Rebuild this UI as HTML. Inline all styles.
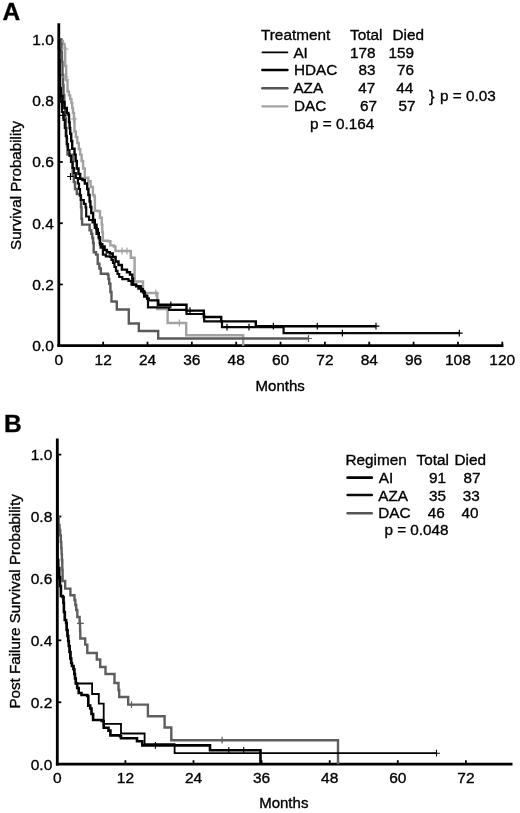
<!DOCTYPE html>
<html><head><meta charset="utf-8"><style>
html,body{margin:0;padding:0;background:#fff;}
svg{display:block;filter:grayscale(1);}
</style></head><body>
<svg width="520" height="813" viewBox="0 0 520 813">
<rect width="520" height="813" fill="#fff"/>
<text x="2.6" y="20.2" font-size="24.5" font-weight="bold" font-family="'Liberation Sans', sans-serif" stroke="#000" stroke-width="0.35">A</text>
<text x="4" y="432.3" font-size="24.5" font-weight="bold" font-family="'Liberation Sans', sans-serif" stroke="#000" stroke-width="0.35">B</text>
<path d="M58.80 23.2 L58.80 347.10" stroke="#000" stroke-width="2.8" fill="none"/>
<path d="M57.40 345.70 L503.4 345.70" stroke="#000" stroke-width="2.8" fill="none"/>
<text x="53.80" y="351.00" text-anchor="end" font-size="15.5" font-family="'Liberation Sans', sans-serif" stroke="#000" stroke-width="0.35">0.0</text>
<path d="M58.80 284.46 L62.80 284.46" stroke="#000" stroke-width="1.8"/>
<text x="53.80" y="289.76" text-anchor="end" font-size="15.5" font-family="'Liberation Sans', sans-serif" stroke="#000" stroke-width="0.35">0.2</text>
<path d="M58.80 223.22 L62.80 223.22" stroke="#000" stroke-width="1.8"/>
<text x="53.80" y="228.52" text-anchor="end" font-size="15.5" font-family="'Liberation Sans', sans-serif" stroke="#000" stroke-width="0.35">0.4</text>
<path d="M58.80 161.98 L62.80 161.98" stroke="#000" stroke-width="1.8"/>
<text x="53.80" y="167.28" text-anchor="end" font-size="15.5" font-family="'Liberation Sans', sans-serif" stroke="#000" stroke-width="0.35">0.6</text>
<path d="M58.80 100.74 L62.80 100.74" stroke="#000" stroke-width="1.8"/>
<text x="53.80" y="106.04" text-anchor="end" font-size="15.5" font-family="'Liberation Sans', sans-serif" stroke="#000" stroke-width="0.35">0.8</text>
<path d="M58.80 39.50 L62.80 39.50" stroke="#000" stroke-width="1.8"/>
<text x="53.80" y="44.80" text-anchor="end" font-size="15.5" font-family="'Liberation Sans', sans-serif" stroke="#000" stroke-width="0.35">1.0</text>
<text x="58.80" y="365.00" text-anchor="middle" font-size="15.5" font-family="'Liberation Sans', sans-serif" stroke="#000" stroke-width="0.35">0</text>
<path d="M103.15 345.70 L103.15 341.70" stroke="#000" stroke-width="1.8"/>
<text x="103.15" y="365.00" text-anchor="middle" font-size="15.5" font-family="'Liberation Sans', sans-serif" stroke="#000" stroke-width="0.35">12</text>
<path d="M147.50 345.70 L147.50 341.70" stroke="#000" stroke-width="1.8"/>
<text x="147.50" y="365.00" text-anchor="middle" font-size="15.5" font-family="'Liberation Sans', sans-serif" stroke="#000" stroke-width="0.35">24</text>
<path d="M191.85 345.70 L191.85 341.70" stroke="#000" stroke-width="1.8"/>
<text x="191.85" y="365.00" text-anchor="middle" font-size="15.5" font-family="'Liberation Sans', sans-serif" stroke="#000" stroke-width="0.35">36</text>
<path d="M236.20 345.70 L236.20 341.70" stroke="#000" stroke-width="1.8"/>
<text x="236.20" y="365.00" text-anchor="middle" font-size="15.5" font-family="'Liberation Sans', sans-serif" stroke="#000" stroke-width="0.35">48</text>
<path d="M280.55 345.70 L280.55 341.70" stroke="#000" stroke-width="1.8"/>
<text x="280.55" y="365.00" text-anchor="middle" font-size="15.5" font-family="'Liberation Sans', sans-serif" stroke="#000" stroke-width="0.35">60</text>
<path d="M324.90 345.70 L324.90 341.70" stroke="#000" stroke-width="1.8"/>
<text x="324.90" y="365.00" text-anchor="middle" font-size="15.5" font-family="'Liberation Sans', sans-serif" stroke="#000" stroke-width="0.35">72</text>
<path d="M369.25 345.70 L369.25 341.70" stroke="#000" stroke-width="1.8"/>
<text x="369.25" y="365.00" text-anchor="middle" font-size="15.5" font-family="'Liberation Sans', sans-serif" stroke="#000" stroke-width="0.35">84</text>
<path d="M413.60 345.70 L413.60 341.70" stroke="#000" stroke-width="1.8"/>
<text x="413.60" y="365.00" text-anchor="middle" font-size="15.5" font-family="'Liberation Sans', sans-serif" stroke="#000" stroke-width="0.35">96</text>
<path d="M457.95 345.70 L457.95 341.70" stroke="#000" stroke-width="1.8"/>
<text x="457.95" y="365.00" text-anchor="middle" font-size="15.5" font-family="'Liberation Sans', sans-serif" stroke="#000" stroke-width="0.35">108</text>
<path d="M502.30 345.70 L502.30 341.70" stroke="#000" stroke-width="1.8"/>
<text x="502.30" y="365.00" text-anchor="middle" font-size="15.5" font-family="'Liberation Sans', sans-serif" stroke="#000" stroke-width="0.35">120</text>
<text x="280.2" y="390.5" text-anchor="middle" font-size="15" font-family="'Liberation Sans', sans-serif" stroke="#000" stroke-width="0.35">Months</text>
<text transform="translate(20.6,185.4) rotate(-90)" text-anchor="middle" font-size="15.2" font-family="'Liberation Sans', sans-serif" stroke="#000" stroke-width="0.35">Survival Probability</text>
<path d="M57.30 438.5 L57.30 765.60" stroke="#000" stroke-width="2.8" fill="none"/>
<path d="M55.90 764.20 L512.5 764.20" stroke="#000" stroke-width="2.8" fill="none"/>
<text x="52.30" y="769.50" text-anchor="end" font-size="15.5" font-family="'Liberation Sans', sans-serif" stroke="#000" stroke-width="0.35">0.0</text>
<path d="M57.30 702.28 L61.30 702.28" stroke="#000" stroke-width="1.8"/>
<text x="52.30" y="707.58" text-anchor="end" font-size="15.5" font-family="'Liberation Sans', sans-serif" stroke="#000" stroke-width="0.35">0.2</text>
<path d="M57.30 640.36 L61.30 640.36" stroke="#000" stroke-width="1.8"/>
<text x="52.30" y="645.66" text-anchor="end" font-size="15.5" font-family="'Liberation Sans', sans-serif" stroke="#000" stroke-width="0.35">0.4</text>
<path d="M57.30 578.44 L61.30 578.44" stroke="#000" stroke-width="1.8"/>
<text x="52.30" y="583.74" text-anchor="end" font-size="15.5" font-family="'Liberation Sans', sans-serif" stroke="#000" stroke-width="0.35">0.6</text>
<path d="M57.30 516.52 L61.30 516.52" stroke="#000" stroke-width="1.8"/>
<text x="52.30" y="521.82" text-anchor="end" font-size="15.5" font-family="'Liberation Sans', sans-serif" stroke="#000" stroke-width="0.35">0.8</text>
<path d="M57.30 454.60 L61.30 454.60" stroke="#000" stroke-width="1.8"/>
<text x="52.30" y="459.90" text-anchor="end" font-size="15.5" font-family="'Liberation Sans', sans-serif" stroke="#000" stroke-width="0.35">1.0</text>
<text x="57.30" y="783.00" text-anchor="middle" font-size="15.5" font-family="'Liberation Sans', sans-serif" stroke="#000" stroke-width="0.35">0</text>
<path d="M125.40 764.20 L125.40 760.20" stroke="#000" stroke-width="1.8"/>
<text x="125.40" y="783.00" text-anchor="middle" font-size="15.5" font-family="'Liberation Sans', sans-serif" stroke="#000" stroke-width="0.35">12</text>
<path d="M193.50 764.20 L193.50 760.20" stroke="#000" stroke-width="1.8"/>
<text x="193.50" y="783.00" text-anchor="middle" font-size="15.5" font-family="'Liberation Sans', sans-serif" stroke="#000" stroke-width="0.35">24</text>
<path d="M261.60 764.20 L261.60 760.20" stroke="#000" stroke-width="1.8"/>
<text x="261.60" y="783.00" text-anchor="middle" font-size="15.5" font-family="'Liberation Sans', sans-serif" stroke="#000" stroke-width="0.35">36</text>
<path d="M329.70 764.20 L329.70 760.20" stroke="#000" stroke-width="1.8"/>
<text x="329.70" y="783.00" text-anchor="middle" font-size="15.5" font-family="'Liberation Sans', sans-serif" stroke="#000" stroke-width="0.35">48</text>
<path d="M397.80 764.20 L397.80 760.20" stroke="#000" stroke-width="1.8"/>
<text x="397.80" y="783.00" text-anchor="middle" font-size="15.5" font-family="'Liberation Sans', sans-serif" stroke="#000" stroke-width="0.35">60</text>
<path d="M465.90 764.20 L465.90 760.20" stroke="#000" stroke-width="1.8"/>
<text x="465.90" y="783.00" text-anchor="middle" font-size="15.5" font-family="'Liberation Sans', sans-serif" stroke="#000" stroke-width="0.35">72</text>
<text x="283.8" y="808.2" text-anchor="middle" font-size="15" font-family="'Liberation Sans', sans-serif" stroke="#000" stroke-width="0.35">Months</text>
<text transform="translate(19.9,601.4) rotate(-90)" text-anchor="middle" font-size="15.2" font-family="'Liberation Sans', sans-serif" stroke="#000" stroke-width="0.35">Post Failure Survival Probability</text>
<path d="M58.8 39.5H61.5V41.0H63.0V44.0H64.6V48.0H65.2V66.0H66.2V80.0H67.5V91.5H69.0V95.4H70.2V99.0H71.4V103.0H72.2V108.0H73.0V113.0H74.0V118.5H74.5V131.5H75.8V137.0H77.3V143.0H78.8V149.0H80.2V154.6H81.6V161.0H83.1V168.5H84.8V177.7H88.3V181.2H90.6V187.0H92.9V195.0H94.4V196.5H94.9V210.8H98.3V211.3H100.0V217.7H101.7V224.6H102.3V232.0H102.9V240.8H108.1V241.3H110.4V245.4H113.8V246.5H115.5V251.0H130.3V251.0H130.8V257.7H134.2V257.7H134.6V281.5H142.5V281.5H143.0V293.0H156.8V293.0H157.3V309.0H167.3V309.0H167.6V323.0H186.0V323.0H186.2V335.3H243.2V335.3H243.2V345.7" stroke="#a2a2a2" stroke-width="2.4" fill="none"/>
<path d="M58.8 39.5H60.6V44.0H61.5V52.0H62.0V62.0H62.5V75.0H63.0V85.0H63.5V95.0H64.3V108.0H65.2V118.5H65.8V128.0H66.4V137.3H67.0V146.0H67.5V154.6H72.2V157.0H72.7V175.4H73.8V182.0H75.0V189.0H76.8V194.0H79.8V195.8H81.0V207.3H81.5V218.8H82.1V224.6H89.0V224.6H89.6V230.4H91.3V233.8H92.3V238.0H93.1V243.0H93.7V252.3H96.0V254.6H97.7V263.8H99.4V268.5H100.8V273.8H107.7V274.6H108.5V279.0H109.2V283.8H110.4V292.0H111.5V301.5H116.5V302.0H116.8V309.5H128.5V309.5H128.8V323.5H138.5V323.5H138.8V331.0H158.0V331.0H158.2V338.5H309.0V338.5" stroke="#5a5a5a" stroke-width="2.4" fill="none"/>
<path d="M58.8 39.5H59.0V50.0H59.2V65.0H59.4V80.0H59.8V92.0H60.6V102.0H62.0V112.0H63.5V120.0H64.8V128.0H65.8V136.0H66.8V144.0H68.0V150.0H69.5V156.0H71.0V162.0H72.5V168.0H74.0V173.0H75.8V178.0H77.9V183.5H79.0V189.0H80.0V195.0H80.8V200.0H83.8V203.8H85.6V207.3H86.2V216.5H89.0V220.0H92.5V222.3H94.8V228.0H96.5V233.8H98.8V238.5H99.8V243.0H100.6V247.7H102.9V254.6H105.8V256.3H110.0V257.0H111.5V260.0H113.0V263.0H114.5V267.0H116.0V270.8H117.5V274.0H119.2V277.0H122.3V279.2H128.5V280.8H131.5V284.6H136.0V286.0H140.8V289.2H143.0V292.3H145.0V295.5H147.0V298.5H148.0V307.3H168.8V307.3H169.0V309.8H186.0V309.8H186.5V314.0H203.8V314.0H204.2V321.4H221.7V321.4H222.0V327.1H283.0V327.1H283.6V333.1H459.5V333.1" stroke="#0a0a0a" stroke-width="2.2" fill="none"/>
<path d="M58.8 39.5H59.0V48.0H59.3V60.0H59.6V75.0H60.0V88.0H61.0V96.0H62.5V102.0H64.5V108.0H66.8V113.0H68.3V114.6H69.0V122.0H69.6V128.0H70.2V133.8H71.2V141.0H72.2V148.8H74.5V154.6H75.6V161.0H76.8V168.5H78.5V174.0H80.2V178.8H82.5V180.0H84.8V183.5H87.2V189.0H88.4V195.0H89.6V201.5H90.4V207.0H91.3V213.0H93.1V220.0H94.8V224.6H96.5V229.2H97.8V233.0H98.8V237.3H100.0V244.2H102.3V246.5H104.6V250.0H106.9V252.3H109.8V253.5H112.7V257.0H115.6V261.5H118.5V265.0H121.9V269.6H127.0V272.3H130.0V274.6H132.3V278.5H133.0V284.6H136.2V286.3H138.5V288.5H141.2V291.2H144.2V296.5H147.3V298.8H148.8V300.4H158.0V300.4H158.3V304.8H186.0V304.8H186.5V310.6H203.5V310.6H203.8V317.0H220.9V317.0H221.2V321.4H255.6V321.4H255.8V326.2H376.0V326.2" stroke="#000" stroke-width="2.4" fill="none"/>
<path d="M372.6 326.2H379.4M376.0 322.8V329.6" stroke="#000" stroke-width="1.2" fill="none"/>
<path d="M270.0 326.2H276.8M273.4 322.8V329.6" stroke="#000" stroke-width="1.2" fill="none"/>
<path d="M313.9 326.2H320.7M317.3 322.8V329.6" stroke="#000" stroke-width="1.2" fill="none"/>
<path d="M339.0 333.1H345.8M342.4 329.7V336.5" stroke="#000" stroke-width="1.2" fill="none"/>
<path d="M455.9 333.1H462.7M459.3 329.7V336.5" stroke="#000" stroke-width="1.2" fill="none"/>
<path d="M223.6 327.1H230.4M227.0 323.7V330.5" stroke="#000" stroke-width="1.2" fill="none"/>
<path d="M245.6 327.1H252.4M249.0 323.7V330.5" stroke="#000" stroke-width="1.2" fill="none"/>
<path d="M167.4 304.8H174.2M170.8 301.4V308.2" stroke="#000" stroke-width="1.2" fill="none"/>
<path d="M186.6 310.6H193.4M190.0 307.2V314.0" stroke="#000" stroke-width="1.2" fill="none"/>
<path d="M67.1 176.5H73.9M70.5 173.1V179.9" stroke="#000" stroke-width="1.2" fill="none"/>
<path d="M59.6 115.4H66.4M63.0 112.0V118.8" stroke="#000" stroke-width="1.2" fill="none"/>
<path d="M305.1 338.5H311.9M308.5 335.1V341.9" stroke="#5a5a5a" stroke-width="1.2" fill="none"/>
<path d="M176.0 323.0H182.8M179.4 319.6V326.4" stroke="#a2a2a2" stroke-width="1.2" fill="none"/>
<path d="M152.4 293.0H159.2M155.8 289.6V296.4" stroke="#a2a2a2" stroke-width="1.2" fill="none"/>
<path d="M118.6 251.0H125.4M122.0 247.6V254.4" stroke="#a2a2a2" stroke-width="1.2" fill="none"/>
<path d="M123.6 251.0H130.4M127.0 247.6V254.4" stroke="#a2a2a2" stroke-width="1.2" fill="none"/>
<path d="M61.6 49.0H68.4M65.0 45.6V52.4" stroke="#a2a2a2" stroke-width="1.2" fill="none"/>
<path d="M61.6 77.0H68.4M65.0 73.6V80.4" stroke="#a2a2a2" stroke-width="1.2" fill="none"/>
<path d="M70.1 119.0H76.9M73.5 115.6V122.4" stroke="#a2a2a2" stroke-width="1.2" fill="none"/>
<path d="M57.3 454.6H57.3V517.0H58.6V525.0H59.5V530.0H60.2V535.4H60.8V542.0H61.3V548.0H61.6V554.0H61.9V560.0H62.3V570.0H62.6V581.0H65.2V588.6H70.4V595.2H74.5V600.0H75.3V605.0H76.2V610.0H77.3V617.0H79.6V623.4H80.1V631.0H80.3V638.5H85.2V644.6H87.3V653.0H96.8V659.5H100.2V667.0H105.5V674.0H114.5V683.0H118.5V690.0H119.2V697.0H128.2V704.6H147.9V716.3H164.6V727.5H171.3V740.2H338.0V740.2H338.0V764.2" stroke="#5e5e5e" stroke-width="2.4" fill="none"/>
<path d="M57.3 454.6H57.3V560.0H58.2V568.0H59.2V577.0H60.0V586.0H60.9V596.0H62.6V597.0H63.5V603.0H63.9V612.0H64.8V620.0H66.1V623.0H66.7V630.0H67.5V636.0H68.2V641.0H68.8V646.0H69.6V652.0H70.4V658.5H71.2V663.0H72.0V666.0H73.5V669.2H74.3V674.0H75.0V678.5H75.8V683.5H92.1V694.0H98.8V703.7H103.7V723.8H121.0V733.5H144.6V744.2H174.6V753.2H436.5V753.2" stroke="#000" stroke-width="1.8" fill="none"/>
<path d="M57.3 454.6H57.3V560.0H58.2V568.0H59.2V577.0H60.0V586.0H60.9V596.0H62.6V597.0H63.5V603.0H63.9V612.0H64.8V620.0H66.1V623.0H66.7V630.0H67.5V636.0H68.2V641.0H68.8V646.0H69.6V652.0H70.4V658.5H71.2V663.0H72.0V666.0H73.5V669.2H74.3V674.0H75.0V678.5H75.8V683.5H77.2V688.0H78.7V693.0H81.5V695.0H87.3V696.0H88.3V705.6H90.2V708.5H91.5V714.0H93.1V720.0H101.7V721.0H103.7V727.7H108.5V730.6H110.4V735.4H120.0V736.3H121.0V738.3H137.0V741.2H142.3V745.4H210.0V745.4H210.0V750.3H260.5V750.3H260.5V764.2" stroke="#000" stroke-width="2.6" fill="none"/>
<path d="M77.0 623.4H83.8M80.4 620.0V626.8" stroke="#5e5e5e" stroke-width="1.2" fill="none"/>
<path d="M128.1 704.6H134.9M131.5 701.2V708.0" stroke="#5e5e5e" stroke-width="1.2" fill="none"/>
<path d="M218.7 740.2H225.5M222.1 736.8V743.6" stroke="#5e5e5e" stroke-width="1.2" fill="none"/>
<path d="M433.1 753.2H439.9M436.5 749.8V756.6" stroke="#000" stroke-width="1.1" fill="none"/>
<path d="M152.0 745.4H158.8M155.4 742.0V748.8" stroke="#000" stroke-width="1.1" fill="none"/>
<path d="M225.4 750.3H232.2M228.8 746.9V753.7" stroke="#000" stroke-width="1.1" fill="none"/>
<path d="M240.3 750.3H247.1M243.7 746.9V753.7" stroke="#000" stroke-width="1.1" fill="none"/>
<text x="261" y="40.2" text-anchor="start" font-size="15.3" font-family="'Liberation Sans', sans-serif" stroke="#000" stroke-width="0.35">Treatment</text>
<text x="350" y="40.2" text-anchor="start" font-size="15.3" font-family="'Liberation Sans', sans-serif" stroke="#000" stroke-width="0.35">Total</text>
<text x="392.5" y="40.2" text-anchor="start" font-size="15.3" font-family="'Liberation Sans', sans-serif" stroke="#000" stroke-width="0.35">Died</text>
<text x="293.4" y="57.6" text-anchor="start" font-size="15.3" font-family="'Liberation Sans', sans-serif" stroke="#000" stroke-width="0.35">AI</text>
<text x="375.6" y="57.6" text-anchor="end" font-size="15.3" font-family="'Liberation Sans', sans-serif" stroke="#000" stroke-width="0.35">178</text>
<text x="414" y="57.6" text-anchor="end" font-size="15.3" font-family="'Liberation Sans', sans-serif" stroke="#000" stroke-width="0.35">159</text>
<text x="294" y="75.2" text-anchor="start" font-size="15.3" font-family="'Liberation Sans', sans-serif" stroke="#000" stroke-width="0.35">HDAC</text>
<text x="375.6" y="75.2" text-anchor="end" font-size="15.3" font-family="'Liberation Sans', sans-serif" stroke="#000" stroke-width="0.35">83</text>
<text x="414" y="75.2" text-anchor="end" font-size="15.3" font-family="'Liberation Sans', sans-serif" stroke="#000" stroke-width="0.35">76</text>
<text x="293.4" y="93.4" text-anchor="start" font-size="15.3" font-family="'Liberation Sans', sans-serif" stroke="#000" stroke-width="0.35">AZA</text>
<text x="375.2" y="93.4" text-anchor="end" font-size="15.3" font-family="'Liberation Sans', sans-serif" stroke="#000" stroke-width="0.35">47</text>
<text x="413.3" y="93.4" text-anchor="end" font-size="15.3" font-family="'Liberation Sans', sans-serif" stroke="#000" stroke-width="0.35">44</text>
<text x="294" y="111.4" text-anchor="start" font-size="15.3" font-family="'Liberation Sans', sans-serif" stroke="#000" stroke-width="0.35">DAC</text>
<text x="377" y="111.4" text-anchor="end" font-size="15.3" font-family="'Liberation Sans', sans-serif" stroke="#000" stroke-width="0.35">67</text>
<text x="415.5" y="111.4" text-anchor="end" font-size="15.3" font-family="'Liberation Sans', sans-serif" stroke="#000" stroke-width="0.35">57</text>
<text x="310" y="129" text-anchor="start" font-size="15.3" font-family="'Liberation Sans', sans-serif" stroke="#000" stroke-width="0.35">p = 0.164</text>
<text x="440" y="101.2" text-anchor="start" font-size="15.3" font-family="'Liberation Sans', sans-serif" stroke="#000" stroke-width="0.35">p = 0.03</text>
<text x="429" y="102.4" font-size="16.6" font-family="'Liberation Sans', sans-serif" stroke="#000" stroke-width="0.35">}</text>
<path d="M262.4 52.4 H287.4" stroke="#000" stroke-width="1.7" stroke-linecap="round"/>
<path d="M262.4 70 H287.4" stroke="#000" stroke-width="2.6" stroke-linecap="round"/>
<path d="M262.4 88.2 H287.4" stroke="#555" stroke-width="2.5" stroke-linecap="round"/>
<path d="M262.4 106.3 H287.4" stroke="#a2a2a2" stroke-width="2.3" stroke-linecap="round"/>
<text x="345.5" y="464.6" text-anchor="start" font-size="15.3" font-family="'Liberation Sans', sans-serif" stroke="#000" stroke-width="0.35">Regimen</text>
<text x="416.6" y="464.6" text-anchor="start" font-size="15.3" font-family="'Liberation Sans', sans-serif" stroke="#000" stroke-width="0.35">Total</text>
<text x="454.5" y="464.6" text-anchor="start" font-size="15.3" font-family="'Liberation Sans', sans-serif" stroke="#000" stroke-width="0.35">Died</text>
<text x="378.8" y="482.7" text-anchor="start" font-size="15.3" font-family="'Liberation Sans', sans-serif" stroke="#000" stroke-width="0.35">AI</text>
<text x="446" y="482.7" text-anchor="end" font-size="15.3" font-family="'Liberation Sans', sans-serif" stroke="#000" stroke-width="0.35">91</text>
<text x="480.6" y="482.7" text-anchor="end" font-size="15.3" font-family="'Liberation Sans', sans-serif" stroke="#000" stroke-width="0.35">87</text>
<text x="378.3" y="500.6" text-anchor="start" font-size="15.3" font-family="'Liberation Sans', sans-serif" stroke="#000" stroke-width="0.35">AZA</text>
<text x="446" y="500.6" text-anchor="end" font-size="15.3" font-family="'Liberation Sans', sans-serif" stroke="#000" stroke-width="0.35">35</text>
<text x="479.8" y="500.6" text-anchor="end" font-size="15.3" font-family="'Liberation Sans', sans-serif" stroke="#000" stroke-width="0.35">33</text>
<text x="378.3" y="518.2" text-anchor="start" font-size="15.3" font-family="'Liberation Sans', sans-serif" stroke="#000" stroke-width="0.35">DAC</text>
<text x="444.8" y="518.2" text-anchor="end" font-size="15.3" font-family="'Liberation Sans', sans-serif" stroke="#000" stroke-width="0.35">46</text>
<text x="478.4" y="518.2" text-anchor="end" font-size="15.3" font-family="'Liberation Sans', sans-serif" stroke="#000" stroke-width="0.35">40</text>
<text x="384.4" y="535.3" text-anchor="start" font-size="15.3" font-family="'Liberation Sans', sans-serif" stroke="#000" stroke-width="0.35">p = 0.048</text>
<path d="M347.6 477.7 H371.8" stroke="#000" stroke-width="2.7" stroke-linecap="round"/>
<path d="M347.6 495.1 H371.8" stroke="#080808" stroke-width="2.5" stroke-linecap="round"/>
<path d="M347.6 513.3 H371.8" stroke="#555" stroke-width="2.4" stroke-linecap="round"/>
</svg>
</body></html>
